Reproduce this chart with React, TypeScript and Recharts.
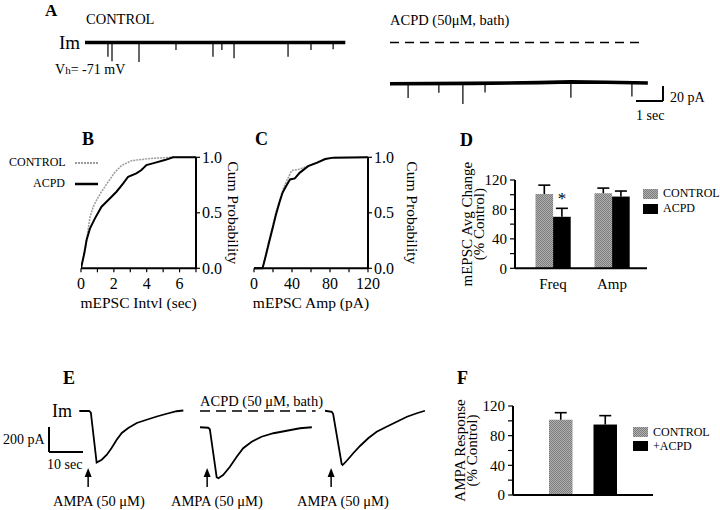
import React from "react";
import {
  LineChart,
  Line,
  BarChart,
  Bar,
  XAxis,
  YAxis,
  ReferenceLine,
  Legend,
  LabelList,
} from "recharts";

const W = 720;
const H = 510;
const SERIF = "'Liberation Serif', 'Times New Roman', Times, serif";
const INK = "#000";
const GREY = "#9a9a9a";

// A: mEPSC sweeps, time (s) and current (pA, relative to control holding current)
const ctrlBaseT = [0, 9.65];
const ctrlBaseI = [0, 0];
const ctrlEventT = [0.85, 1.0, 2.0, 3.37, 4.74, 5.07, 5.52, 7.52, 8.37, 9.19];
const ctrlEventI = [19, 25, 26, 10, 19, 10, 21, 19, 10, 9];

const acpdBaseT = [0, 3, 5.5, 6.7, 8, 9.55];
const acpdBaseI = [-55, -54.5, -53.5, -52.5, -53, -54];
const acpdEventT = [0.67, 1.81, 2.7, 3.52, 6.7, 8.96];
const acpdEventI = [19, 12, 27, 12, 21, 19];

// B: cumulative probability of inter-event interval (s)
const intvlCtrlX = [0, 0.24, 0.4, 0.55, 0.75, 0.95, 1.25, 1.66, 2.06, 2.46, 3.07, 3.68, 4.28, 5.5, 7];
const intvlCtrlP = [0, 0.165, 0.315, 0.465, 0.555, 0.615, 0.69, 0.78, 0.865, 0.925, 0.97, 0.98, 0.99, 1, 1];
const intvlAcpdX = [0, 0.2, 0.34, 0.55, 0.85, 1.25, 1.66, 2.16, 2.57, 2.87, 3.37, 3.68, 3.98, 4.48, 5.1, 5.6, 7];
const intvlAcpdP = [0, 0.135, 0.255, 0.36, 0.45, 0.555, 0.615, 0.69, 0.765, 0.825, 0.855, 0.885, 0.93, 0.95, 0.975, 1, 1];

// C: cumulative probability of amplitude (pA)
const ampCtrlX = [0, 9, 12.6, 16, 19.6, 23, 26.7, 30.9, 35.1, 39.6, 48.4, 57.2, 66, 74.7, 83.5, 120];
const ampCtrlP = [0, 0, 0.13, 0.26, 0.38, 0.5, 0.61, 0.718, 0.8, 0.88, 0.894, 0.924, 0.955, 0.985, 0.997, 1];
const ampAcpdX = [0, 9, 12.6, 16, 19.6, 23, 26.7, 30, 33.7, 37.9, 43, 48, 57, 66, 75, 83.5, 120];
const ampAcpdP = [0, 0, 0.12, 0.24, 0.36, 0.48, 0.59, 0.68, 0.74, 0.8, 0.81, 0.86, 0.92, 0.95, 0.985, 0.997, 1];

// D: average change (% control)
const dGroups = ["Freq", "Amp"];
const dControl = [101, 102];
const dControlSem = [12, 7];
const dAcpd = [70, 97.5];
const dAcpdSem = [11.5, 7.5];
const dMarks = ["*", ""];

// E: AMPA-evoked currents, time (s) and current (pA)
const e1T = [0, 2.9, 3.4, 5.1, 6.6, 8.1, 9.5, 11.0, 12.5, 14.4, 16.9, 19.8, 22.8, 25.7, 28.6, 30.6];
const e1I = [0, 0, -13, -412, -390, -350, -296, -230, -176, -136, -96, -70, -44, -22, -2, 4];
const e2T = [0, 2.4, 2.9, 4.9, 5.4, 6.8, 8.8, 10.8, 12.7, 15.2, 18.1, 21.6, 25.5, 29.4, 32.9];
const e2I = [-130, -134, -146, -530, -538, -512, -446, -366, -298, -246, -206, -178, -158, -138, -130];
const e3T = [0, 2.0, 2.4, 4.9, 5.2, 6.4, 8.3, 10.3, 12.7, 15.2, 18.1, 21.1, 24.1, 27.0, 29.4];
const e3I = [2, -6, -24, -424, -432, -398, -338, -280, -218, -166, -126, -86, -46, -18, 2];
const ampaT = [2.6, 2.1, 1.8];

// F: AMPA response (% control)
const fControl = [101.5];
const fControlSem = [9.5];
const fAcpd = [95];
const fAcpdSem = [12];

const keyOrder = ["CONTROL", "ACPD", "+ACPD"];

const pairs = (xs: number[], ys: number[], kx: string, ky: string) =>
  xs.map((x, i) => ({ [kx]: x, [ky]: ys[i] }));

const baseAt = (bt: number[], bi: number[], t: number) => {
  let v = bi[0];
  bt.forEach((x, i) => {
    if (x <= t) v = bi[i];
  });
  return v;
};

// each event: a vertical stroke from the baseline down, then a break
const events = (et: number[], ei: number[], bt: number[], bi: number[]) =>
  et.flatMap((t, i) => {
    const b = baseAt(bt, bi, t);
    return [
      { t, v: b },
      { t, v: b - ei[i] },
      { t, v: null },
    ];
  });

// margins so that the plot area lands on page pixels x0..x1, y0..y1
const frame = (x0: number, x1: number, y0: number, y1: number, ax: any = {}) => ({
  left: x0 - (ax.left || 0),
  right: W - x1 - (ax.right || 0),
  top: y0,
  bottom: H - y1 - (ax.bottom || 0),
});

const AXIS = { stroke: INK, strokeWidth: 2 };
const TICKLN = { stroke: INK, strokeWidth: 1.2 };
const font = (size: number) => ({ fill: INK, fontSize: size, fontFamily: SERIF });

const sorted = (payload: any[]) =>
  [...(payload || [])].sort((a, b) => keyOrder.indexOf(a.value) - keyOrder.indexOf(b.value));

const Layer = ({ children }: any) => (
  <div style={{ position: "absolute", left: 0, top: 0, width: W, height: H }}>{children}</div>
);

const T = ({ x, y, size = 14, bold = false, children }: any) => (
  <div
    style={{
      position: "absolute",
      left: x,
      top: y - size / 2,
      fontSize: size,
      lineHeight: 1,
      fontWeight: bold ? 700 : 400,
      whiteSpace: "nowrap",
      fontFamily: SERIF,
      color: INK,
    }}
  >
    {children}
  </div>
);

const Arrow = (p: any) => {
  const top = Math.min(p.y1, p.y2);
  const bottom = Math.max(p.y1, p.y2);
  return (
    <g>
      <line x1={p.x1} x2={p.x1} y1={bottom} y2={top + 6} stroke={INK} strokeWidth={1.5} />
      <path d={`M${p.x1 - 3.5},${top + 9} L${p.x1},${top} L${p.x1 + 3.5},${top + 9} Z`} fill={INK} />
    </g>
  );
};

// A sweeps
const A_PX_S = 27;
const A_PX_PA = 0.75;
const A_TOP = 35;
const A_I = [-100, 10];

function SweepA({ x0, tMax, base, ev, children }: any) {
  const y1 = A_TOP + (A_I[1] - A_I[0]) * A_PX_PA;
  return (
    <Layer>
      <LineChart width={W} height={H} margin={frame(x0, x0 + tMax * A_PX_S, A_TOP, y1)}>
        <XAxis type="number" dataKey="t" domain={[0, tMax]} hide allowDataOverflow />
        <YAxis type="number" domain={A_I} hide allowDataOverflow />
        <Line data={base} dataKey="v" stroke={INK} strokeWidth={3.6} dot={false} activeDot={false} isAnimationActive={false} />
        <Line data={ev} dataKey="v" stroke={INK} strokeWidth={1.2} dot={false} activeDot={false} isAnimationActive={false} />
        {children}
      </LineChart>
    </Layer>
  );
}

// E sweeps
const E_PX_S = 3.4;
const E_PX_PA = 0.125;
const E_ZERO = 411;
const E_I = [-640, 50];

function SweepE({ start, tDomain, data, ampa, children }: any) {
  const x0 = start + tDomain[0] * E_PX_S;
  const x1 = start + tDomain[1] * E_PX_S;
  const y0 = E_ZERO - E_I[1] * E_PX_PA;
  const y1 = E_ZERO - E_I[0] * E_PX_PA;
  return (
    <Layer>
      <LineChart width={W} height={H} margin={frame(x0, x1, y0, y1)}>
        <XAxis type="number" dataKey="t" domain={tDomain} hide allowDataOverflow />
        <YAxis type="number" domain={E_I} hide allowDataOverflow />
        <Line data={data} dataKey="i" stroke={INK} strokeWidth={1.8} dot={false} activeDot={false} isAnimationActive={false} />
        <ReferenceLine segment={[{ x: ampa, y: -608 }, { x: ampa, y: -456 }]} shape={Arrow} />
        {children}
      </LineChart>
    </Layer>
  );
}

const LineKey = ({ payload }: any) => (
  <div>
    {sorted(payload).map((p: any) => (
      <div key={p.value} style={{ display: "flex", alignItems: "center", height: 21 }}>
        <span style={{ width: 56, textAlign: "right", fontSize: 12, fontFamily: SERIF, color: INK }}>{p.value}</span>
        <svg width={23} height={6} style={{ marginLeft: 10 }}>
          <line
            x1={0}
            x2={23}
            y1={3}
            y2={3}
            stroke={p.color}
            strokeWidth={p.value === "CONTROL" ? 2 : 2.5}
            strokeDasharray={p.value === "CONTROL" ? "2 1" : undefined}
          />
        </svg>
      </div>
    ))}
  </div>
);

const BoxKey = (rowH: number) => ({ payload }: any) => (
  <div>
    {sorted(payload).map((p: any) => (
      <div key={p.value} style={{ display: "flex", alignItems: "center", height: rowH }}>
        <svg width={15} height={10}>
          <rect width={15} height={10} fill={p.color} />
        </svg>
        <span style={{ marginLeft: 5, fontSize: 12, fontFamily: SERIF, color: INK }}>{p.value}</span>
      </div>
    ))}
  </div>
);

const RotTitle = ({ viewBox, lines, offsets }: any) => {
  if (!viewBox) return null;
  const right = viewBox.x + viewBox.width;
  const cy = viewBox.y + viewBox.height / 2;
  return (
    <g>
      {lines.map((s: string, i: number) => {
        const cx = right - offsets[i];
        return (
          <text
            key={s}
            x={cx}
            y={cy}
            transform={`rotate(-90 ${cx} ${cy})`}
            textAnchor="middle"
            dominantBaseline="central"
            fontFamily={SERIF}
            fontSize={15}
            fill={INK}
          >
            {s}
          </text>
        );
      })}
    </g>
  );
};

const semBar = (key: string, semKey: string) => (p: any) => {
  const { x, y, width, height, fill, payload } = p;
  const k = height / payload[key];
  const top = y - payload[semKey] * k;
  const cx = x + width / 2;
  return (
    <g>
      <rect x={x} y={y} width={width} height={height} fill={fill} />
      <line x1={cx} x2={cx} y1={y} y2={top} stroke={INK} strokeWidth={1.6} />
      <line x1={cx - 6} x2={cx + 6} y1={top} y2={top} stroke={INK} strokeWidth={1.6} />
    </g>
  );
};

const Star = (p: any) =>
  p.value ? (
    <text x={p.x + p.width / 2} y={p.y - 13} textAnchor="middle" fontFamily={SERIF} fontSize={17} fill={INK}>
      {p.value}
    </text>
  ) : null;

export default function App() {
  const ctrlBase = pairs(ctrlBaseT, ctrlBaseI, "t", "v");
  const ctrlEv = events(ctrlEventT, ctrlEventI, ctrlBaseT, ctrlBaseI);
  const acpdBase = pairs(acpdBaseT, acpdBaseI, "t", "v");
  const acpdEv = events(acpdEventT, acpdEventI, acpdBaseT, acpdBaseI);

  const bCtrl = pairs(intvlCtrlX, intvlCtrlP, "x", "p");
  const bAcpd = pairs(intvlAcpdX, intvlAcpdP, "x", "p");
  const cCtrl = pairs(ampCtrlX, ampCtrlP, "x", "p");
  const cAcpd = pairs(ampAcpdX, ampAcpdP, "x", "p");

  const dRows = dGroups.map((g, i) => ({
    group: g,
    control: dControl[i],
    controlSem: dControlSem[i],
    acpd: dAcpd[i],
    acpdSem: dAcpdSem[i],
    mark: dMarks[i],
  }));
  const fRows = fControl.map((v, i) => ({
    group: "AMPA",
    control: v,
    controlSem: fControlSem[i],
    acpd: fAcpd[i],
    acpdSem: fAcpdSem[i],
  }));

  const cdfX = (ticks: number[], every: number, max: number, label: string) => ({
    type: "number" as const,
    dataKey: "x",
    domain: [0, max],
    ticks,
    tickFormatter: (v: number) => (v % every === 0 && (v < max || max === 120) ? String(v) : ""),
    height: 40,
    tickSize: 4,
    tickMargin: 5,
    axisLine: AXIS,
    tickLine: TICKLN,
    tick: font(16),
    allowDataOverflow: true,
    label: { value: label, position: "insideBottom" as const, offset: 0, ...font(15.5) },
  });
  const cdfY = (width: number) => ({
    orientation: "right" as const,
    type: "number" as const,
    domain: [0, 1],
    ticks: [0, 0.5, 1],
    tickFormatter: (v: number) => v.toFixed(1),
    width,
    tickSize: 4,
    tickMargin: 2,
    axisLine: AXIS,
    tickLine: TICKLN,
    tick: font(16),
    label: { value: "Cum Probability", angle: 90, position: "center" as const, ...font(15.5) },
  });
  const pctY = (lines: string[], offsets: number[]) => ({
    domain: [0, 120],
    ticks: [0, 20, 40, 60, 80, 100, 120],
    tickFormatter: (v: number) => (v % 40 === 0 ? String(v) : ""),
    width: 50,
    tickSize: 5,
    tickMargin: 3,
    axisLine: AXIS,
    tickLine: TICKLN,
    tick: font(15),
    label: <RotTitle lines={lines} offsets={offsets} />,
  });

  return (
    <div style={{ position: "absolute", left: 0, top: 0, width: W, height: H, background: "#fff", overflow: "hidden" }}>
      <svg width={0} height={0} style={{ position: "absolute" }}>
        <defs>
          <pattern id="screen" width={2} height={2} patternUnits="userSpaceOnUse">
            <rect width={2} height={2} fill="#b0b0b0" />
            <rect width={1} height={1} fill="#7c7c7c" />
            <rect x={1} y={1} width={1} height={1} fill="#7c7c7c" />
          </pattern>
        </defs>
      </svg>

      {/* A */}
      <SweepA x0={85} tMax={9.65} base={ctrlBase} ev={ctrlEv} />
      <SweepA x0={390} tMax={10.25} base={acpdBase} ev={acpdEv}>
        <ReferenceLine segment={[{ x: 0, y: 0 }, { x: 9.37, y: 0 }]} stroke={INK} strokeWidth={1.5} strokeDasharray="9 6" />
        <ReferenceLine segment={[{ x: 10.11, y: -58 }, { x: 10.11, y: -78 }]} stroke={INK} strokeWidth={2} />
        <ReferenceLine segment={[{ x: 9.11, y: -78 }, { x: 10.11, y: -78 }]} stroke={INK} strokeWidth={2} />
      </SweepA>

      {/* B */}
      <Layer>
        <LineChart width={W} height={H} margin={frame(81, 196, 157.3, 268.3, { right: 74, bottom: 40 })}>
          <XAxis {...cdfX([0, 1, 2, 3, 4, 5, 6, 7], 2, 7, "mEPSC Intvl (sec)")} />
          <YAxis {...cdfY(74)} />
          <Line data={bCtrl} dataKey="p" name="CONTROL" stroke={GREY} strokeWidth={1.5} strokeDasharray="2 1" dot={false} activeDot={false} isAnimationActive={false} />
          <Line data={bAcpd} dataKey="p" name="ACPD" stroke={INK} strokeWidth={2} dot={false} activeDot={false} isAnimationActive={false} />
          <Legend layout="vertical" align="center" verticalAlign="middle" content={LineKey} wrapperStyle={{ left: 9, top: 152, width: 92 }} />
        </LineChart>
      </Layer>

      {/* C */}
      <Layer>
        <LineChart width={W} height={H} margin={frame(254, 368, 157.3, 268.3, { right: 88, bottom: 40 })}>
          <XAxis {...cdfX([0, 20, 40, 60, 80, 100, 120], 40, 120, "mEPSC Amp (pA)")} />
          <YAxis {...cdfY(88)} />
          <Line data={cCtrl} dataKey="p" name="CONTROL" stroke={GREY} strokeWidth={1.5} strokeDasharray="2 1" dot={false} activeDot={false} isAnimationActive={false} />
          <Line data={cAcpd} dataKey="p" name="ACPD" stroke={INK} strokeWidth={2} dot={false} activeDot={false} isAnimationActive={false} />
        </LineChart>
      </Layer>

      {/* D */}
      <Layer>
        <BarChart width={W} height={H} data={dRows} margin={frame(515, 647, 180, 268.3, { left: 50, bottom: 30 })} barGap={0} barSize={17.6}>
          <XAxis dataKey="group" axisLine={AXIS} tickLine={false} tickSize={0} tickMargin={10} tick={font(15)} height={30} padding={{ left: 8.5, right: 5.5 }} />
          <YAxis {...pctY(["mEPSC Avg Change", "(% Control)"], [48, 36])} />
          <Bar dataKey="control" name="CONTROL" fill="url(#screen)" shape={semBar("control", "controlSem")} isAnimationActive={false} />
          <Bar dataKey="acpd" name="ACPD" fill={INK} shape={semBar("acpd", "acpdSem")} isAnimationActive={false}>
            <LabelList dataKey="mark" content={Star} />
          </Bar>
          <Legend layout="vertical" align="center" verticalAlign="middle" content={BoxKey(15)} wrapperStyle={{ left: 643, top: 186, width: 80 }} />
        </BarChart>
      </Layer>

      {/* E */}
      <SweepE start={79.3} tDomain={[-9.2, 31]} data={pairs(e1T, e1I, "t", "i")} ampa={ampaT[0]}>
        <ReferenceLine segment={[{ x: -8.91, y: -128 }, { x: -8.91, y: -328 }]} stroke={INK} strokeWidth={2} />
        <ReferenceLine segment={[{ x: -8.91, y: -328 }, { x: 1.09, y: -328 }]} stroke={INK} strokeWidth={2} />
      </SweepE>
      <SweepE start={200} tDomain={[0, 34]} data={pairs(e2T, e2I, "t", "i")} ampa={ampaT[1]}>
        <ReferenceLine segment={[{ x: 0, y: 0 }, { x: 34, y: 0 }]} stroke={INK} strokeWidth={1.5} strokeDasharray="10 6" />
      </SweepE>
      <SweepE start={325} tDomain={[0, 30]} data={pairs(e3T, e3I, "t", "i")} ampa={ampaT[2]} />

      {/* F */}
      <Layer>
        <BarChart width={W} height={H} data={fRows} margin={frame(513, 653, 406, 495, { left: 50, bottom: 4 })} barGap={21} barSize={23.5}>
          <XAxis dataKey="group" axisLine={AXIS} tick={false} tickLine={false} height={4} />
          <YAxis {...pctY(["AMPA Response", "(% Control)"], [53, 41])} />
          <Bar dataKey="control" name="CONTROL" fill="url(#screen)" shape={semBar("control", "controlSem")} isAnimationActive={false} />
          <Bar dataKey="acpd" name="+ACPD" fill={INK} shape={semBar("acpd", "acpdSem")} isAnimationActive={false} />
          <Legend layout="vertical" align="center" verticalAlign="middle" content={BoxKey(14)} wrapperStyle={{ left: 633, top: 425, width: 85 }} />
        </BarChart>
      </Layer>

      {/* text */}
      <T x={45} y={10} size={17} bold>A</T>
      <T x={86} y={19.5} size={14.5}>CONTROL</T>
      <T x={59} y={42} size={19}>Im</T>
      <T x={55} y={69.5} size={14}>
        V<span style={{ fontSize: "0.8em" }}>h</span>= -71 mV
      </T>
      <T x={390} y={20} size={14.5}>ACPD (50μM, bath)</T>
      <T x={670} y={97.5} size={14}>20 pA</T>
      <T x={636} y={116} size={14}>1 sec</T>

      <T x={82} y={139} size={18} bold>B</T>
      <T x={255} y={139} size={18} bold>C</T>
      <T x={460} y={140} size={18} bold>D</T>

      <T x={63} y={378} size={18} bold>E</T>
      <T x={52} y={411} size={18}>Im</T>
      <T x={3} y={440} size={14}>200 pA</T>
      <T x={47} y={465} size={14}>10 sec</T>
      <T x={200} y={401} size={14.5}>ACPD (50 μM, bath)</T>
      <T x={53} y={501} size={14.5}>AMPA (50 μM)</T>
      <T x={171} y={501} size={14.5}>AMPA (50 μM)</T>
      <T x={297} y={501} size={14.5}>AMPA (50 μM)</T>

      <T x={457} y={378} size={18} bold>F</T>
    </div>
  );
}
